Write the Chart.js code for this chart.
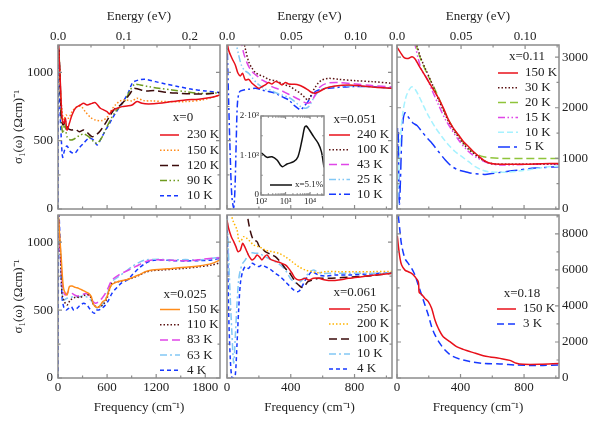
<!DOCTYPE html>
<html>
<head>
<meta charset="utf-8">
<script src="https://cdn.jsdelivr.net/npm/chart.js@4.4.1/dist/chart.umd.min.js"></script>
<style>
  html, body { margin: 0; padding: 0; background: #fff; }
  #wrap { position: relative; width: 600px; height: 424px; }
  #wrap canvas { position: absolute; left: 0; top: 0; }
</style>
</head>
<body>
<div id="wrap">
  <canvas id="p1" width="600" height="424"></canvas>
  <canvas id="p2" width="600" height="424"></canvas>
  <canvas id="p3" width="600" height="424"></canvas>
  <canvas id="p4" width="600" height="424"></canvas>
  <canvas id="p5" width="600" height="424"></canvas>
  <canvas id="p6" width="600" height="424"></canvas>
  <canvas id="inset" width="600" height="424"></canvas>
</div>
<script>
const EV = 8065.54; // cm-1 per eV

// tick labels
const freqTicksWide = [0, 600, 1200, 1800];
const freqTicksNarrow = [0, 400, 800];
const evTicksWide = [0, 0.1, 0.2];
const evTicksNarrow = [0, 0.05, 0.1];
const sigTicks = [0, 500, 1000];
const sigTicksX011 = [0, 1000, 2000, 3000];
const sigTicksX018 = [0, 2000, 4000, 6000, 8000];
const insetFreqTicks = [100, 1000, 10000];
const insetSigTicks = [0, 1000, 2000];

// x = 0
const x0Labels = ["230 K", "150 K", "120 K", "90 K", "10 K"];
const x0_230_w = [3, 8, 29, 49, 69, 90, 110, 139, 171, 212, 273, 314, 355, 416, 456, 518, 558, 599, 628, 660, 721, 782, 844, 905, 966, 1027, 1108, 1231, 1394, 1557, 1720, 1883, 1980];
const x0_230_s = [1250, 1180, 920, 676, 627, 664, 578, 627, 688, 737, 761, 773, 761, 773, 778, 737, 725, 712, 695, 720, 737, 749, 754, 761, 786, 773, 769, 773, 786, 798, 803, 817, 834];
const x0_150_w = [3, 8, 29, 49, 69, 98, 130, 171, 232, 285, 334, 395, 456, 538, 599, 640, 701, 762, 823, 905, 966, 1047, 1149, 1312, 1557, 1760, 1980];
const x0_150_s = [1250, 1180, 871, 725, 651, 688, 664, 712, 749, 749, 712, 671, 651, 647, 671, 712, 761, 791, 798, 791, 810, 793, 791, 786, 786, 798, 834];
const x0_120_w = [3, 8, 24, 41, 61, 90, 122, 163, 212, 261, 314, 367, 416, 465, 518, 579, 640, 701, 762, 823, 884, 925, 986, 1068, 1190, 1312, 1475, 1638, 1801, 1980];
const x0_120_s = [1250, 1200, 993, 664, 615, 639, 590, 578, 583, 566, 578, 554, 529, 542, 573, 627, 688, 737, 761, 798, 847, 883, 876, 864, 866, 854, 847, 842, 842, 852];
const x0_90_w = [3, 8, 24, 41, 61, 81, 110, 151, 192, 253, 314, 375, 436, 477, 530, 579, 640, 701, 762, 823, 884, 937, 1006, 1108, 1231, 1394, 1557, 1720, 1883, 1980];
const x0_90_s = [1250, 1200, 969, 627, 554, 627, 529, 505, 510, 534, 549, 529, 493, 481, 517, 578, 651, 712, 754, 798, 871, 912, 908, 895, 883, 871, 859, 847, 847, 852];
const x0_10_w = [0, 4, 8, 24, 41, 57, 81, 110, 151, 204, 253, 314, 375, 436, 477, 538, 619, 701, 782, 856, 913, 986, 1068, 1190, 1312, 1475, 1638, 1801, 1980];
const x0_10_s = [0, 700, 1250, 749, 505, 378, 432, 461, 420, 407, 444, 481, 517, 505, 468, 529, 615, 700, 773, 847, 925, 944, 949, 932, 915, 895, 876, 864, 852];

// x = 0.051
const x051Labels = ["240 K", "100 K", "43 K", "25 K", "10 K"];
const x051_240_w = [0, 10, 31, 52, 69, 84, 98, 115, 136, 157, 178, 199, 219, 240, 261, 282, 303, 324, 345, 366, 387, 418, 449, 481, 508, 533, 554, 579, 617, 679, 763, 846, 930, 1035];
const x051_240_s = [1230, 1164, 1103, 1054, 993, 974, 993, 944, 949, 920, 900, 883, 895, 908, 925, 915, 932, 925, 908, 925, 915, 913, 908, 891, 871, 852, 847, 859, 883, 900, 908, 900, 891, 883];
const x051_100_w = [100, 119, 136, 157, 178, 203, 230, 261, 303, 334, 366, 397, 428, 460, 487, 508, 523, 543, 571, 596, 637, 700, 805, 909, 1035];
const x051_100_s = [1250, 1152, 1078, 1030, 998, 981, 969, 949, 939, 925, 908, 895, 871, 847, 817, 798, 822, 871, 920, 944, 956, 949, 939, 932, 920];
const x051_43_w = [85, 105, 125, 146, 167, 194, 219, 251, 282, 324, 366, 408, 449, 481, 508, 533, 558, 585, 627, 700, 805, 909, 1035];
const x051_43_s = [1250, 1139, 1071, 1022, 993, 969, 944, 925, 895, 876, 852, 827, 803, 783, 773, 793, 847, 895, 920, 925, 915, 903, 893];
const x051_25_w = [50, 73, 90, 111, 136, 161, 188, 215, 240, 272, 303, 345, 387, 418, 449, 474, 495, 516, 537, 564, 596, 658, 763, 888, 1035];
const x051_25_s = [1250, 1127, 1054, 1013, 993, 956, 920, 895, 876, 871, 852, 834, 817, 793, 761, 742, 737, 754, 798, 847, 876, 895, 900, 895, 883];
const x051_10_w = [0, 10, 20, 30, 42, 50, 58, 66, 80, 105, 136, 178, 219, 261, 303, 345, 387, 418, 445, 462, 481, 508, 537, 575, 637, 763, 909, 1035];
const x051_10_s = [1250, 800, 400, 100, 10, 150, 500, 780, 860, 871, 876, 883, 871, 859, 847, 822, 798, 761, 737, 725, 749, 786, 842, 871, 883, 895, 895, 883];

// x = 0.11
const x011Labels = ["150 K", "30 K", "20 K", "15 K", "10 K", "5 K"];
const x011_150_w = [0, 20, 45, 70, 95, 115, 136, 168, 199, 231, 262, 293, 325, 356, 388, 419, 451, 482, 514, 545, 576, 618, 702, 807, 912, 1020];
const x011_150_s = [3200, 3100, 2990, 2975, 3010, 2960, 2843, 2678, 2514, 2349, 2185, 1987, 1757, 1592, 1461, 1329, 1230, 1132, 1046, 967, 915, 888, 882, 885, 895, 900];
const x011_30_w = [120, 147, 178, 220, 262, 293, 325, 356, 388, 419, 451, 482, 514, 545, 576, 618, 702, 912, 1020];
const x011_30_s = [3300, 3007, 2777, 2481, 2152, 1941, 1724, 1559, 1415, 1283, 1178, 1099, 1020, 954, 915, 888, 882, 888, 888];
const x011_20_w = [115, 140, 168, 199, 231, 262, 293, 325, 356, 388, 419, 451, 482, 514, 545, 587, 660, 807, 1020];
const x011_20_s = [3300, 3040, 2823, 2612, 2415, 2204, 1967, 1757, 1592, 1441, 1309, 1198, 1119, 1066, 1033, 1013, 1000, 1000, 1000];
const x011_15_w = [110, 136, 157, 189, 220, 262, 304, 346, 388, 430, 472, 514, 555, 597, 660, 807, 1020];
const x011_15_s = [3300, 2941, 2731, 2579, 2349, 2053, 1770, 1559, 1362, 1198, 1079, 994, 934, 888, 869, 882, 888];
const x011_10_w = [2, 10, 21, 36, 57, 78, 94, 115, 140, 168, 199, 241, 283, 325, 367, 409, 451, 493, 535, 576, 639, 702, 786, 870, 954, 1020];
const x011_10_s = [50, 704, 1362, 1888, 2217, 2362, 2415, 2362, 2217, 2033, 1836, 1612, 1428, 1263, 1132, 1033, 934, 836, 770, 737, 724, 730, 757, 796, 836, 849];
const x011_5_w = [3, 6, 9, 12, 16, 22, 30, 40, 50, 60, 75, 100, 126, 157, 190, 220, 262, 304, 346, 388, 430, 472, 514, 555, 597, 681, 765, 849, 933, 1020];
const x011_5_s = [1600, 1000, 1500, 300, 100, 600, 1400, 1800, 1900, 1880, 1800, 1700, 1650, 1530, 1400, 1300, 1130, 970, 840, 770, 737, 704, 691, 684, 700, 737, 770, 803, 822, 836];

// x = 0.025
const x025Labels = ["150 K", "110 K", "83 K", "63 K", "4 K"];
const x025_150_w = [0, 16, 41, 57, 73, 110, 139, 171, 212, 253, 293, 334, 375, 407, 428, 456, 489, 518, 546, 579, 599, 619, 652, 701, 762, 823, 905, 986, 1068, 1149, 1271, 1394, 1557, 1720, 1883, 1980];
const x025_150_s = [1250, 1090, 869, 721, 648, 611, 672, 677, 667, 660, 648, 636, 623, 599, 550, 525, 520, 537, 562, 574, 599, 636, 685, 702, 714, 721, 739, 758, 783, 795, 800, 807, 815, 825, 844, 869];
const x025_110_w = [0, 29, 49, 69, 110, 151, 212, 273, 334, 375, 407, 436, 477, 518, 558, 599, 628, 660, 701, 762, 823, 905, 986, 1068, 1149, 1271, 1394, 1557, 1720, 1883, 1980];
const x025_110_s = [1250, 918, 623, 574, 537, 574, 594, 594, 611, 611, 587, 537, 525, 525, 545, 587, 648, 697, 705, 712, 720, 735, 755, 778, 790, 795, 800, 808, 818, 832, 849];
const x025_83_w = [0, 16, 41, 61, 90, 130, 171, 232, 293, 334, 375, 416, 456, 497, 538, 579, 619, 660, 741, 823, 905, 986, 1068, 1149, 1312, 1475, 1638, 1760, 1883, 1980];
const x025_83_s = [1250, 1040, 795, 648, 611, 636, 623, 604, 611, 623, 611, 574, 550, 562, 587, 623, 672, 721, 758, 783, 807, 832, 856, 869, 869, 864, 864, 874, 881, 886];
const x025_63_w = [0, 29, 49, 69, 110, 151, 192, 253, 314, 375, 416, 456, 497, 538, 579, 619, 660, 741, 823, 905, 986, 1068, 1231, 1394, 1557, 1720, 1883, 1980];
const x025_63_s = [1250, 869, 648, 574, 587, 594, 599, 597, 605, 587, 562, 525, 513, 537, 579, 648, 709, 746, 783, 820, 849, 869, 874, 869, 872, 869, 881, 888];
const x025_4_w = [0, 4, 8, 29, 49, 69, 98, 130, 163, 192, 232, 273, 314, 355, 383, 416, 444, 465, 497, 538, 579, 619, 660, 721, 782, 844, 905, 986, 1068, 1149, 1271, 1394, 1557, 1720, 1883, 1980];
const x025_4_s = [0, 700, 1250, 942, 599, 525, 500, 513, 525, 500, 513, 537, 550, 537, 513, 488, 476, 500, 500, 513, 537, 574, 623, 667, 702, 721, 758, 807, 844, 864, 869, 864, 862, 864, 869, 881];

// x = 0.061
const x061Labels = ["250 K", "200 K", "100 K", "10 K", "4 K"];
const x061_250_w = [0, 10, 27, 42, 56, 69, 84, 98, 111, 125, 140, 157, 173, 188, 203, 219, 236, 251, 272, 293, 313, 334, 366, 387, 408, 428, 449, 470, 491, 512, 543, 575, 617, 658, 700, 763, 846, 930, 1035];
const x061_250_s = [1163, 1102, 1040, 1004, 967, 930, 942, 991, 967, 930, 893, 869, 881, 906, 893, 869, 893, 906, 874, 864, 856, 849, 832, 807, 771, 734, 721, 726, 734, 721, 734, 734, 721, 717, 721, 734, 746, 758, 771];
const x061_200_w = [0, 20, 40, 63, 73, 84, 105, 125, 146, 167, 199, 240, 282, 324, 366, 408, 449, 491, 533, 575, 617, 700, 805, 909, 1035];
const x061_200_s = [1250, 1220, 1150, 1090, 1016, 1004, 1040, 1028, 1004, 979, 967, 942, 930, 918, 893, 856, 820, 795, 783, 775, 783, 783, 783, 783, 785];
const x061_100_w = [120, 136, 153, 167, 188, 203, 219, 240, 261, 282, 303, 324, 345, 366, 387, 408, 428, 449, 470, 491, 508, 533, 575, 637, 721, 805, 909, 1035];
const x061_100_s = [1260, 1139, 1053, 1016, 1004, 967, 955, 930, 918, 906, 893, 869, 839, 807, 783, 746, 709, 685, 667, 685, 709, 721, 734, 734, 739, 746, 753, 771];
const x061_10_w = [0, 10, 20, 30, 42, 52, 63, 73, 84, 98, 115, 136, 157, 178, 199, 219, 240, 272, 303, 334, 366, 397, 418, 439, 460, 481, 501, 522, 543, 564, 596, 658, 763, 909, 1035];
const x061_10_s = [1250, 900, 600, 350, 110, 304, 550, 721, 795, 844, 869, 918, 923, 918, 918, 906, 893, 874, 856, 832, 795, 734, 709, 697, 709, 734, 758, 783, 795, 783, 771, 771, 771, 771, 771];
const x061_4_w = [0, 10, 21, 31, 42, 52, 63, 73, 84, 98, 115, 136, 157, 178, 199, 219, 240, 272, 303, 334, 366, 397, 418, 439, 453, 470, 491, 512, 533, 554, 575, 617, 679, 763, 888, 1035];
const x061_4_s = [1250, 500, 132, 0, 0, 20, 255, 500, 697, 783, 820, 807, 844, 832, 820, 832, 820, 800, 771, 746, 709, 672, 648, 636, 640, 672, 721, 758, 783, 771, 758, 751, 758, 758, 766, 775];

// x = 0.18
const x018Labels = ["150 K", "3 K"];
const x018_150_w = [2, 8, 19, 29, 50, 71, 92, 113, 134, 140, 155, 176, 197, 218, 239, 260, 291, 333, 375, 417, 480, 543, 585, 648, 711, 752, 794, 899, 1020];
const x018_150_s = [7900, 7380, 6640, 6270, 5990, 5900, 5810, 5620, 5350, 4750, 4640, 4420, 4240, 3870, 3220, 2760, 2290, 2020, 1740, 1590, 1410, 1240, 1170, 1090, 980, 814, 760, 760, 800];
const x018_3_w = [2, 8, 19, 29, 50, 71, 92, 113, 134, 155, 176, 197, 218, 239, 270, 302, 344, 396, 459, 543, 648, 752, 836, 920, 1020];
const x018_3_s = [9600, 9050, 8120, 7380, 6640, 6360, 6090, 5720, 5160, 4610, 4050, 3500, 2850, 2390, 1920, 1550, 1240, 1050, 910, 810, 780, 720, 700, 700, 720];

// inset, x = 5.1% at room temperature, wide range
const insetW = [100, 110, 176, 282, 450, 615, 760, 1150, 2150, 3220, 4700, 6000, 7000, 9400, 14000, 21500, 29000, 37000];
const insetS = [1060, 1055, 954, 970, 886, 760, 717, 785, 843, 970, 1392, 1713, 1747, 1646, 1476, 1308, 1097, 700];

// colours and dashes
const RED = "#e8101a", ORANGE = "#ff8c1a", BROWN = "#3b0b0b", DOTBROWN = "#5c1414";
const OLIVE = "#6e9a1e", BLUE = "#1638ff", MAGENTA = "#e046e8", LBLUE = "#82c8f5";
const CYAN = "#a6f2ff", YGREEN = "#8fc43a", GOLD = "#ffb400";
const SOLID = [], DOT = [1.5, 2], LDASH = [8, 4], SDASH = [4, 3];
const DDOT = [7, 2.5, 1.5, 2.5, 1.5, 2.5], DASHDOT = [7, 3, 2, 3], LDASHDOT = [12, 4, 3, 4];

Chart.defaults.font.family = '"Liberation Serif", "Times New Roman", serif';
Chart.defaults.font.size = 13;
Chart.defaults.color = "#222";

function pts(w, s) {
    return w.map((v, i) => ({ x: v, y: s[i] }));
}

function serie(label, w, s, color, dash) {
    return {
        label: label,
        data: pts(w, s),
        borderColor: color,
        borderDash: dash,
        borderWidth: 1.5,
        pointRadius: 0,
        tension: 0.3,
        fill: false
    };
}

function stepValues(min, max, step, major, log) {
    const out = [];
    if (log) {
        for (let d = Math.pow(10, Math.floor(Math.log10(min))); d <= max; d *= 10) {
            for (let k = 1; k < 10; k++) {
                const v = k * d;
                if (v >= min && v <= max) out.push({ v: v, major: k === 1 });
            }
        }
        return out;
    }
    for (let i = 0; ; i++) {
        const v = min + i * step;
        if (v > max + 1e-9) break;
        out.push({ v: v, major: Math.abs(v / major - Math.round(v / major)) < 1e-6 });
    }
    return out;
}

// gray frame with inward ticks on all four sides
const frameTicks = {
    id: "frameTicks",
    beforeDatasetsDraw(chart, args, o) {
        if (!o.fill) return;
        const a = chart.chartArea;
        chart.ctx.save();
        chart.ctx.fillStyle = o.fill;
        chart.ctx.fillRect(a.left, a.top, a.right - a.left, a.bottom - a.top);
        chart.ctx.restore();
    },
    afterDraw(chart, args, o) {
        const ctx = chart.ctx, a = chart.chartArea;
        const sx = chart.scales.x, sy = chart.scales.y, se = chart.scales.e;
        const big = o.big || 4, small = o.small || 2.5;
        ctx.save();
        ctx.strokeStyle = "#8c8c8c";
        ctx.lineWidth = 1.2;
        ctx.beginPath();
        stepValues(sx.min, sx.max, o.xStep, o.xMajor, o.xLog).forEach(t => {
            const p = sx.getPixelForValue(t.v), l = t.major ? big : small;
            ctx.moveTo(p, a.bottom); ctx.lineTo(p, a.bottom - l);
            if (!se) { ctx.moveTo(p, a.top); ctx.lineTo(p, a.top + l); }
        });
        if (se) {
            stepValues(se.min, se.max, o.eStep, o.eMajor, false).forEach(t => {
                const p = se.getPixelForValue(t.v), l = t.major ? big : small;
                ctx.moveTo(p, a.top); ctx.lineTo(p, a.top + l);
            });
        }
        stepValues(sy.min, sy.max, o.yStep, o.yMajor, false).forEach(t => {
            const p = sy.getPixelForValue(t.v), l = t.major ? big : small;
            ctx.moveTo(a.left, p); ctx.lineTo(a.left + l, p);
            ctx.moveTo(a.right, p); ctx.lineTo(a.right - l, p);
        });
        ctx.stroke();
        ctx.lineWidth = 1.5;
        ctx.strokeRect(a.left, a.top, a.right - a.left, a.bottom - a.top);
        ctx.restore();
    }
};

// legend drawn inside the plot, entries taken from the datasets
const panelLegend = {
    id: "panelLegend",
    afterDatasetsDraw(chart, args, o) {
        if (o.x0 === undefined) return;
        const ctx = chart.ctx;
        ctx.save();
        ctx.font = (o.size || 13) + 'px "Liberation Serif", serif';
        ctx.fillStyle = "#222";
        ctx.textBaseline = "middle";
        if (o.title) {
            ctx.textAlign = "center";
            ctx.fillText(o.title, o.titleX, o.titleY);
        }
        ctx.textAlign = "left";
        chart.data.datasets.forEach((ds, i) => {
            const y = o.y0 + i * o.dy;
            ctx.strokeStyle = ds.borderColor;
            ctx.lineWidth = ds.borderWidth;
            ctx.setLineDash(ds.borderDash || []);
            ctx.beginPath();
            ctx.moveTo(o.x0, y);
            ctx.lineTo(o.x1, y);
            ctx.stroke();
            ctx.setLineDash([]);
            ctx.fillText(ds.label, o.tx, y);
        });
        ctx.restore();
    }
};

function fixedTicks(vals) {
    return scale => { scale.ticks = vals.map(v => ({ value: v })); };
}

function makePanel(id, c) {
    const [L, T, R, B] = c.box;
    const showY = c.yPos !== "none";
    const yW = c.yPos === "left" ? 58 : 41;
    const pad = {
        left: L - (c.yPos === "left" ? yW : 0),
        right: 600 - R - (c.yPos === "right" ? yW : 0),
        top: T - (c.top ? 45 : 0),
        bottom: 424 - B - (c.bottom ? 46 : 0)
    };
    new Chart(document.getElementById(id), {
        type: "line",
        data: { datasets: c.datasets },
        options: {
            responsive: false,
            animation: false,
            devicePixelRatio: 1,
            events: [],
            layout: { padding: pad },
            plugins: {
                legend: { display: false },
                tooltip: { enabled: false },
                frameTicks: c.ticks,
                panelLegend: c.legend
            },
            scales: {
                x: {
                    type: "linear",
                    position: "bottom",
                    min: 0,
                    max: c.xMax,
                    display: c.bottom,
                    grid: { display: false, drawTicks: false },
                    border: { display: false },
                    afterBuildTicks: fixedTicks(c.xTicks),
                    afterFit: s => { s.height = c.bottom ? 46 : 0; },
                    ticks: { autoSkip: false, maxRotation: 0, padding: 2, callback: v => String(v) },
                    title: { display: true, text: "Frequency (cm\u207B\u00B9)", padding: { top: 0, bottom: 9 } }
                },
                e: {
                    type: "linear",
                    position: "top",
                    min: 0,
                    max: c.xMax / EV,
                    display: c.top,
                    grid: { display: false, drawTicks: false },
                    border: { display: false },
                    afterBuildTicks: fixedTicks(c.eTicks),
                    afterFit: s => { s.height = c.top ? 45 : 0; },
                    ticks: {
                        autoSkip: false, maxRotation: 0, padding: 1,
                        callback: v => (v === 0 ? "0.0" : v.toFixed(c.eDigits))
                    },
                    title: { display: true, text: "Energy (eV)", padding: { top: 9, bottom: 0 } }
                },
                y: {
                    type: "linear",
                    position: c.yPos === "right" ? "right" : "left",
                    min: 0,
                    max: c.yMax,
                    display: showY,
                    grid: { display: false, drawTicks: false },
                    border: { display: false },
                    afterBuildTicks: fixedTicks(c.yTicks),
                    afterFit: s => { s.width = showY ? yW : 0; },
                    ticks: { autoSkip: false, padding: c.yPos === "right" ? 3 : 5, callback: v => String(v) },
                    title: {
                        display: c.yPos === "left",
                        text: "\u03C3\u2081(\u03C9) (\u03A9cm)\u207B\u00B9",
                        padding: { top: 11, bottom: 0 }
                    }
                }
            }
        },
        plugins: [frameTicks, panelLegend]
    });
}

const lowTicks = { xStep: 300, xMajor: 600, eStep: 0.05, eMajor: 0.1, yStep: 250, yMajor: 500 };
const midTicks = { xStep: 200, xMajor: 400, eStep: 0.025, eMajor: 0.05, yStep: 250, yMajor: 500 };

makePanel("p1", {
    box: [58, 45, 220, 209], xMax: 1980, yMax: 1200, top: true, bottom: false, yPos: "left",
    xTicks: freqTicksWide, eTicks: evTicksWide, eDigits: 1, yTicks: sigTicks, ticks: lowTicks,
    datasets: [
        serie(x0Labels[0], x0_230_w, x0_230_s, RED, SOLID),
        serie(x0Labels[1], x0_150_w, x0_150_s, ORANGE, DOT),
        serie(x0Labels[2], x0_120_w, x0_120_s, BROWN, LDASH),
        serie(x0Labels[3], x0_90_w, x0_90_s, OLIVE, DDOT),
        serie(x0Labels[4], x0_10_w, x0_10_s, BLUE, SDASH)
    ],
    legend: { title: "x=0", titleX: 183, titleY: 118, x0: 160, x1: 179, tx: 187, y0: 135, dy: 15.2 }
});

makePanel("p2", {
    box: [227, 45, 392, 209], xMax: 1035, yMax: 1200, top: true, bottom: false, yPos: "none",
    xTicks: freqTicksNarrow, eTicks: evTicksNarrow, eDigits: 2, yTicks: sigTicks, ticks: midTicks,
    datasets: [
        serie(x051Labels[0], x051_240_w, x051_240_s, RED, SOLID),
        serie(x051Labels[1], x051_100_w, x051_100_s, DOTBROWN, DOT),
        serie(x051Labels[2], x051_43_w, x051_43_s, MAGENTA, LDASH),
        serie(x051Labels[3], x051_25_w, x051_25_s, LBLUE, DDOT),
        serie(x051Labels[4], x051_10_w, x051_10_s, BLUE, DASHDOT)
    ],
    legend: { title: "x=0.051", titleX: 355, titleY: 120, x0: 329, x1: 350, tx: 357, y0: 135, dy: 14.8 }
});

makePanel("p3", {
    box: [397, 45, 559, 209], xMax: 1020, yMax: 3240, top: true, bottom: false, yPos: "right",
    xTicks: freqTicksNarrow, eTicks: evTicksNarrow, eDigits: 2, yTicks: sigTicksX011,
    ticks: { xStep: 200, xMajor: 400, eStep: 0.025, eMajor: 0.05, yStep: 500, yMajor: 1000 },
    datasets: [
        serie(x011Labels[0], x011_150_w, x011_150_s, RED, SOLID),
        serie(x011Labels[1], x011_30_w, x011_30_s, DOTBROWN, DOT),
        serie(x011Labels[2], x011_20_w, x011_20_s, YGREEN, LDASH),
        serie(x011Labels[3], x011_15_w, x011_15_s, MAGENTA, DDOT),
        serie(x011Labels[4], x011_10_w, x011_10_s, CYAN, [6, 3]),
        serie(x011Labels[5], x011_5_w, x011_5_s, BLUE, LDASHDOT)
    ],
    legend: { title: "x=0.11", titleX: 527, titleY: 57, x0: 498, x1: 518, tx: 525, y0: 73, dy: 14.8 }
});

makePanel("p4", {
    box: [58, 215, 220, 378], xMax: 1980, yMax: 1200, top: false, bottom: true, yPos: "left",
    xTicks: freqTicksWide, eTicks: evTicksWide, eDigits: 1, yTicks: sigTicks, ticks: lowTicks,
    datasets: [
        serie(x025Labels[0], x025_150_w, x025_150_s, ORANGE, SOLID),
        serie(x025Labels[1], x025_110_w, x025_110_s, DOTBROWN, DOT),
        serie(x025Labels[2], x025_83_w, x025_83_s, MAGENTA, LDASH),
        serie(x025Labels[3], x025_63_w, x025_63_s, LBLUE, DASHDOT),
        serie(x025Labels[4], x025_4_w, x025_4_s, BLUE, SDASH)
    ],
    legend: { title: "x=0.025", titleX: 185, titleY: 295, x0: 160, x1: 180, tx: 187, y0: 309.5, dy: 15.2 }
});

makePanel("p5", {
    box: [227, 215, 392, 378], xMax: 1035, yMax: 1200, top: false, bottom: true, yPos: "none",
    xTicks: freqTicksNarrow, eTicks: evTicksNarrow, eDigits: 2, yTicks: sigTicks, ticks: midTicks,
    datasets: [
        serie(x061Labels[0], x061_250_w, x061_250_s, RED, SOLID),
        serie(x061Labels[1], x061_200_w, x061_200_s, GOLD, DOT),
        serie(x061Labels[2], x061_100_w, x061_100_s, BROWN, LDASH),
        serie(x061Labels[3], x061_10_w, x061_10_s, LBLUE, DASHDOT),
        serie(x061Labels[4], x061_4_w, x061_4_s, BLUE, SDASH)
    ],
    legend: { title: "x=0.061", titleX: 355, titleY: 293, x0: 329, x1: 350, tx: 357, y0: 309, dy: 15 }
});

makePanel("p6", {
    box: [397, 215, 559, 378], xMax: 1020, yMax: 9050, top: false, bottom: true, yPos: "right",
    xTicks: freqTicksNarrow, eTicks: evTicksNarrow, eDigits: 2, yTicks: sigTicksX018,
    ticks: { xStep: 200, xMajor: 400, eStep: 0.025, eMajor: 0.05, yStep: 1000, yMajor: 2000 },
    datasets: [
        serie(x018Labels[0], x018_150_w, x018_150_s, RED, SOLID),
        serie(x018Labels[1], x018_3_w, x018_3_s, BLUE, [7, 4])
    ],
    legend: { title: "x=0.18", titleX: 522, titleY: 294, x0: 497, x1: 516, tx: 523, y0: 309, dy: 15 }
});

// inset: wide range conductivity on a log frequency axis
const supDigits = { 2: "\u00B2", 3: "\u00B3", 4: "\u2074" };
new Chart(document.getElementById("inset"), {
    type: "line",
    data: { datasets: [serie("x=5.1%", insetW, insetS, "#111", SOLID)] },
    options: {
        responsive: false,
        animation: false,
        devicePixelRatio: 1,
        events: [],
        layout: { padding: { left: 231, right: 276, top: 116, bottom: 214 } },
        plugins: {
            legend: { display: false },
            tooltip: { enabled: false },
            frameTicks: { fill: "#fff", xLog: true, yStep: 500, yMajor: 1000, big: 3, small: 1.8 },
            panelLegend: { x0: 270, x1: 292, tx: 295, y0: 185, dy: 12, size: 9 }
        },
        scales: {
            x: {
                type: "logarithmic",
                min: 100,
                max: 37000,
                grid: { display: false, drawTicks: false },
                border: { display: false },
                afterBuildTicks: fixedTicks(insetFreqTicks),
                afterFit: s => { s.height = 15; },
                ticks: {
                    autoSkip: false, maxRotation: 0, padding: 1, font: { size: 9 },
                    callback: v => "10" + supDigits[Math.round(Math.log10(v))]
                }
            },
            y: {
                type: "linear",
                min: 0,
                max: 2000,
                grid: { display: false, drawTicks: false },
                border: { display: false },
                afterBuildTicks: fixedTicks(insetSigTicks),
                afterFit: s => { s.width = 30; },
                ticks: {
                    autoSkip: false, padding: 2, font: { size: 9 },
                    callback: v => (v === 0 ? "0" : (v / 1000) + "\u00B710\u00B3")
                }
            }
        }
    },
    plugins: [frameTicks, panelLegend]
});
</script>
</body>
</html>
